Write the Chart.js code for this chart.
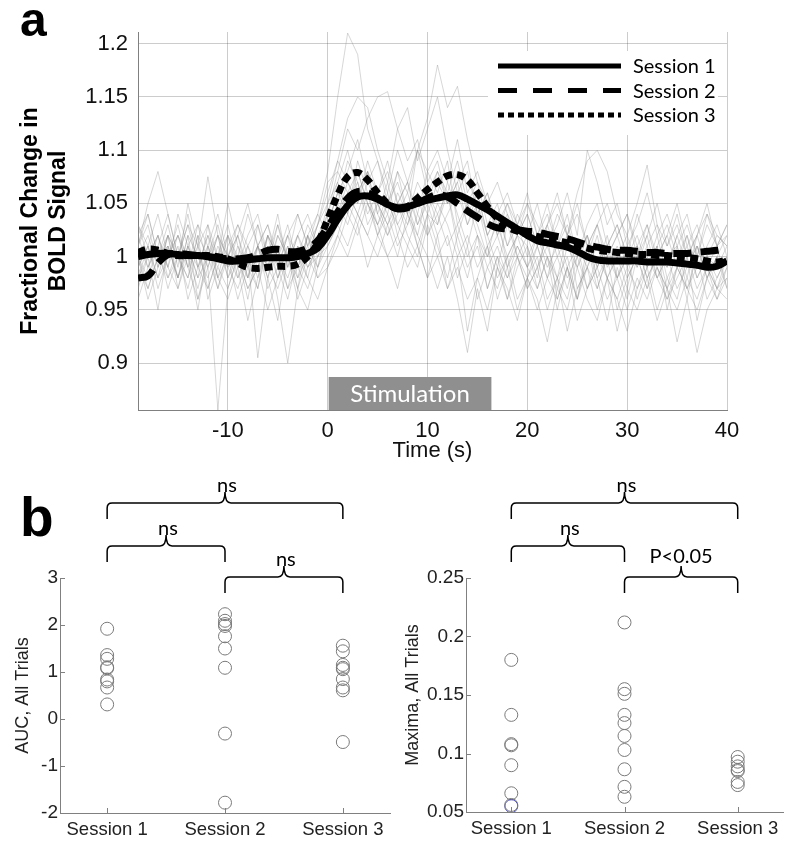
<!DOCTYPE html>
<html>
<head>
<meta charset="utf-8">
<script src="https://cdn.jsdelivr.net/npm/chart.js@4.4.1/dist/chart.umd.min.js"></script>
<style>
  html, body { margin: 0; padding: 0; background: #fff; }
  #page { position: relative; width: 800px; height: 846px; overflow: hidden; }
  .box { position: absolute; }
  .panel { position: absolute; font-family: 'Liberation Sans', Arial, sans-serif; font-weight: bold; line-height: 1; color: #000; }
</style>
</head>
<body>
<div id="page">
  <div class="box" style="left:0;top:0;width:800px;height:470px"><canvas id="bold"></canvas></div>
  <div class="box" style="left:0;top:460px;width:400px;height:386px"><canvas id="auc"></canvas></div>
  <div class="box" style="left:400px;top:460px;width:400px;height:386px"><canvas id="maxima"></canvas></div>
  <div class="panel" style="left:20px;top:-4px;font-size:48px">a</div>
  <div class="panel" style="left:20px;top:490px;font-size:55px">b</div>
</div>
<script>
// time axis (s), one sample per second
const times = [-19,-18,-17,-16,-15,-14,-13,-12,-11,-10,
  -9,-8,-7,-6,-5,-4,-3,-2,-1,0,
  1,2,3,4,5,6,7,8,9,10,
  11,12,13,14,15,16,17,18,19,20,
  21,22,23,24,25,26,27,28,29,30,
  31,32,33,34,35,36,37,38,39,40];

// session means
const session1 = [1.000,1.002,1.003,1.003,1.002,1.001,1.001,1.000,0.998,0.996,
  0.996,0.997,0.998,0.999,0.999,0.999,1.000,1.003,1.008,1.020,
  1.035,1.048,1.056,1.057,1.054,1.049,1.046,1.047,1.050,1.053,
  1.055,1.057,1.058,1.054,1.049,1.044,1.038,1.032,1.026,1.020,
  1.015,1.013,1.011,1.009,1.005,1.000,0.997,0.996,0.996,0.996,
  0.996,0.995,0.995,0.995,0.994,0.993,0.992,0.990,0.991,0.996];
const session2 = [0.980,0.982,0.994,1.002,1.003,1.002,1.001,1.000,0.999,0.998,
  0.998,0.999,1.002,1.006,1.007,1.005,1.005,1.008,1.015,1.028,
  1.042,1.055,1.061,1.060,1.055,1.049,1.045,1.046,1.050,1.055,
  1.058,1.056,1.050,1.043,1.037,1.031,1.027,1.026,1.025,1.024,
  1.023,1.021,1.019,1.017,1.014,1.011,1.009,1.007,1.006,1.006,
  1.005,1.004,1.004,1.003,1.003,1.003,1.004,1.005,1.006,1.008];
const session3 = [1.004,1.007,1.006,1.003,1.001,1.001,1.001,1.001,1.000,0.998,
  0.994,0.990,0.989,0.990,0.991,0.991,0.993,1.000,1.013,1.035,
  1.058,1.075,1.079,1.072,1.060,1.050,1.045,1.047,1.055,1.063,
  1.070,1.076,1.077,1.072,1.060,1.047,1.036,1.028,1.024,1.021,
  1.019,1.017,1.015,1.013,1.011,1.008,1.006,1.005,1.004,1.003,
  1.002,1.002,1.001,1.001,1.000,0.999,0.998,0.996,0.995,0.997];

// individual trials (light grey)
const trial01 = [1.01,0.99,1.02,0.98,1.00,1.03,0.99,1.01,0.97,1.00, 1.02,0.98,1.01,0.99,1.03,1.00,0.98,1.02,1.04,1.08,
  1.15,1.21,1.19,1.12,1.09,1.05,1.07,1.04,1.10,1.08, 1.06,1.09,1.03,1.05,1.02,1.00,1.04,0.99,1.02,1.01,
  0.98,1.03,1.00,0.97,1.01,0.99,1.02,0.98,1.00,0.97, 1.01,0.99,1.02,0.98,1.00,0.96,1.01,0.99,0.97,1.00];
const trial02 = [0.97,1.00,0.95,1.01,0.98,1.02,0.96,0.99,0.856,0.97, 1.00,0.96,1.01,0.98,0.94,1.00,0.97,1.02,0.99,1.03,
  1.06,1.04,1.08,1.05,1.03,1.06,1.02,1.05,1.01,1.04, 1.03,1.06,1.01,0.98,1.02,0.97,1.00,0.96,0.99,1.01,
  0.97,1.00,0.95,0.99,0.96,1.01,0.98,0.94,0.99,0.96, 1.00,0.97,1.01,0.95,0.99,0.97,1.00,0.96,0.98,1.00];
const trial03 = [1.02,1.04,1.00,1.03,0.99,1.05,1.01,1.03,0.98,1.02, 1.00,1.04,1.01,1.03,0.99,1.02,1.00,1.03,1.01,1.05,
  1.09,1.13,1.15,1.14,1.10,1.07,1.12,1.14,1.09,1.12, 1.15,1.10,1.06,1.08,1.04,1.06,1.02,1.05,1.03,1.06,
  1.02,1.05,1.01,1.04,1.00,1.03,1.05,1.01,1.03,1.00, 1.04,1.01,1.03,0.99,1.02,1.04,1.00,1.03,1.01,1.02];
const trial04 = [0.99,1.01,0.98,1.02,1.00,0.97,1.01,0.99,1.02,0.98, 1.01,0.99,0.97,1.02,1.00,0.98,1.01,0.99,1.00,1.02,
  1.04,1.07,1.05,1.09,1.06,1.04,1.08,1.06,1.10,1.13, 1.18,1.14,1.16,1.11,1.07,1.05,1.02,1.04,1.00,1.02,
  0.99,1.01,0.98,1.02,0.99,1.01,0.97,1.00,0.98,1.01, 0.99,1.02,0.98,1.00,1.01,0.97,0.99,1.00,0.98,1.00];
const trial05 = [1.00,0.96,0.99,1.02,0.97,1.00,0.95,1.01,0.98,0.96, 0.99,0.94,0.98,1.01,0.96,0.90,0.97,0.95,0.99,1.01,
  1.03,1.06,1.04,1.02,1.05,1.03,1.00,1.04,1.01,0.98, 1.02,0.97,1.00,0.93,0.98,1.01,0.96,0.99,0.95,0.98,
  1.00,0.96,0.98,0.93,0.97,0.99,0.95,0.98,0.96,0.93, 0.97,0.99,0.95,0.98,0.96,1.00,0.94,0.98,0.96,0.99];
const trial06 = [1.03,1.00,1.02,0.99,1.04,1.01,0.98,1.03,1.00,1.05, 1.01,0.98,1.03,1.00,1.04,0.99,1.02,1.00,1.03,1.07,
  1.08,1.06,1.04,1.07,1.05,1.03,1.06,1.04,1.07,1.05, 1.08,1.06,1.09,1.05,1.07,1.03,1.05,1.01,1.04,1.02,
  1.05,1.01,1.03,1.06,1.02,1.10,1.07,1.03,1.05,1.01, 1.03,1.06,1.02,1.04,1.01,1.03,1.00,1.04,1.02,1.01];
const trial07 = [0.98,1.01,0.97,1.00,1.03,0.99,1.01,0.97,1.00,0.99, 0.97,1.00,0.905,0.98,1.01,0.97,0.99,1.02,0.98,1.00,
  1.02,1.05,1.03,1.06,1.02,1.04,1.01,1.03,1.06,1.02, 1.04,1.01,1.03,1.00,1.02,0.99,1.01,0.98,1.00,0.97,
  0.99,1.02,0.96,0.99,1.01,0.97,0.99,1.02,0.98,1.00, 0.96,0.99,1.01,0.97,0.99,1.02,0.98,1.00,0.97,0.99];
const trial08 = [1.01,1.04,1.00,1.02,0.98,1.01,1.03,0.99,1.02,1.00, 1.03,1.01,0.99,1.02,1.00,1.03,0.99,1.01,1.04,1.02,
  1.05,1.09,1.07,1.04,1.06,1.08,1.05,1.03,1.06,1.04, 1.07,1.05,1.08,1.04,1.06,1.02,1.04,1.06,1.03,1.05,
  1.02,1.04,1.01,1.03,1.00,1.02,0.99,1.01,1.03,1.00, 1.02,0.99,1.01,1.03,1.00,1.02,0.99,1.01,1.03,1.00];
const trial09 = [0.99,0.97,1.00,0.98,1.01,0.96,0.99,1.02,0.98,1.00, 0.96,0.99,1.01,0.97,0.99,0.96,1.00,0.98,0.96,0.99,
  1.01,1.04,1.02,1.05,1.03,1.00,1.02,0.99,1.01,0.98, 1.00,0.97,0.99,0.96,0.98,0.95,0.99,0.97,0.94,0.98,
  0.96,0.92,0.97,0.95,0.99,0.96,0.94,0.98,0.93,0.97, 0.95,0.98,0.94,0.97,0.92,0.96,0.91,0.95,0.97,0.98];
const trial10 = [1.00,1.02,0.99,1.01,0.98,1.02,1.00,0.98,1.01,0.99, 1.02,0.99,1.01,0.98,1.02,1.00,0.99,1.02,1.00,1.03,
  1.06,1.05,1.07,1.03,1.05,1.02,1.04,1.06,1.03,1.05, 1.02,1.04,1.06,1.03,1.05,1.01,1.03,1.00,1.02,1.04,
  1.01,1.03,1.05,1.02,1.06,1.09,1.10,1.08,1.04,1.02, 1.05,1.086,1.03,1.01,1.04,1.00,1.02,1.05,1.01,1.03];
const trial11 = [1.01,1.05,1.08,1.04,1.00,1.03,1.01,1.075,1.02,1.00, 0.98,1.01,1.03,0.99,1.02,1.00,1.04,1.01,0.99,1.02,
  1.04,1.06,1.08,1.05,1.02,1.05,1.03,1.01,1.04,1.02, 1.05,1.03,1.00,1.02,0.99,1.01,0.98,1.00,1.02,0.99,
  1.01,0.98,1.00,1.02,0.97,0.99,1.01,0.98,1.00,1.02, 0.99,1.01,0.98,1.00,0.97,0.99,1.01,0.98,1.00,0.99];
const trial12 = [0.98,1.00,1.02,0.99,0.97,1.01,0.98,1.00,1.03,0.99, 1.00,0.97,0.99,1.01,0.98,1.00,0.96,0.99,1.01,1.04,
  1.07,1.10,1.06,1.08,1.04,1.07,1.03,1.05,1.02,1.00, 0.97,1.00,0.96,0.91,0.97,0.93,0.99,0.96,1.00,0.97,
  0.99,0.95,0.98,1.00,0.96,0.99,0.97,1.00,0.95,0.98, 1.00,0.97,0.99,0.96,0.98,1.00,0.97,0.99,0.96,0.98];
const trial13 = [1.00,0.98,1.01,0.99,1.02,1.00,0.97,1.01,0.99,1.02, 0.99,1.01,0.98,1.02,1.00,0.97,1.01,0.98,1.02,1.04,
  1.08,1.12,1.10,1.13,1.15,1.155,1.12,1.09,1.11,1.07, 1.09,1.05,1.07,1.03,1.06,1.02,1.04,1.01,1.03,1.00,
  1.02,0.99,1.01,0.98,1.00,1.02,0.99,1.01,0.98,1.00, 1.01,0.98,1.00,1.02,0.99,1.01,0.98,1.00,0.99,1.01];
const trial14 = [1.02,0.99,1.01,1.04,1.00,0.98,1.02,1.00,0.97,1.01, 1.03,1.00,0.97,1.01,0.99,1.02,0.98,1.00,1.03,1.05,
  1.07,1.04,1.09,1.06,1.03,1.05,1.08,1.04,1.02,1.06, 1.03,1.07,1.04,1.01,1.05,1.02,0.99,1.03,1.00,0.98,
  1.01,0.98,1.02,0.99,0.96,1.00,1.03,0.99,1.01,0.98, 1.00,1.03,0.99,0.97,1.01,0.98,1.02,0.99,1.01,0.97];
const trial15 = [0.96,0.99,1.01,0.97,1.00,0.98,1.02,0.96,0.99,0.97, 1.00,0.97,0.99,0.95,0.98,1.01,0.97,1.00,0.98,0.99,
  1.02,1.00,1.03,0.99,1.02,1.00,0.97,1.01,0.99,1.03, 1.00,1.02,0.98,1.01,0.96,0.99,0.97,1.00,0.96,0.98,
  0.95,0.98,0.96,0.99,0.94,0.97,0.99,0.96,0.98,0.95, 0.98,0.96,0.99,0.97,0.95,0.98,0.96,0.99,0.97,0.96];
const trial16 = [1.01,1.03,0.99,1.02,1.00,1.04,0.99,1.02,1.00,1.03, 0.99,1.02,1.04,1.00,1.03,0.99,1.02,1.04,1.01,1.03,
  1.06,1.08,1.11,1.07,1.09,1.06,1.10,1.07,1.04,1.08, 1.10,1.07,1.11,1.06,1.08,1.05,1.07,1.04,1.02,1.05,
  1.03,1.01,1.04,1.02,1.05,1.01,1.03,1.00,1.02,1.04, 1.01,1.03,1.00,1.02,1.05,1.01,1.03,1.00,1.02,1.01];
const trial17 = [0.99,1.01,0.98,1.00,1.02,0.99,0.96,1.00,1.02,0.98, 1.00,0.98,1.01,0.99,0.97,1.00,1.02,0.99,1.01,1.02,
  1.05,1.03,1.06,1.08,1.04,1.02,1.05,1.07,1.03,1.06, 1.04,1.06,1.02,1.05,1.03,1.00,1.02,0.99,1.01,0.99,
  1.02,1.00,0.97,1.01,0.99,1.02,0.98,1.00,1.02,0.99, 1.01,0.98,1.00,0.99,1.02,0.99,1.01,0.98,1.00,1.02];
const trial18 = [1.00,0.97,1.00,1.01,0.98,1.01,0.99,0.97,1.00,1.02, 0.98,1.00,0.99,1.02,0.98,1.01,0.99,0.97,1.00,1.01,
  1.03,1.01,1.04,1.02,1.00,1.03,1.05,1.02,1.00,1.04, 1.01,0.98,1.02,0.99,1.01,0.97,1.00,0.98,1.01,0.99,
  0.97,1.00,0.98,0.96,1.00,0.97,1.00,0.98,0.96,0.99, 0.97,1.00,0.98,0.96,0.99,0.97,0.95,0.98,1.00,0.97];
const trial19 = [1.03,1.01,1.04,1.00,1.02,0.99,1.03,1.01,1.04,1.00, 1.02,1.05,1.01,1.03,1.00,1.02,1.04,1.01,1.03,1.06,
  1.09,1.07,1.05,1.08,1.06,1.09,1.05,1.07,1.10,1.06, 1.08,1.05,1.07,1.09,1.04,1.06,1.03,1.05,1.02,1.04,
  1.01,1.03,1.06,1.02,1.04,1.01,1.03,1.05,1.02,1.04, 1.00,1.02,1.05,1.01,1.03,1.00,1.02,1.04,1.01,1.03];
const trials = [trial01, trial02, trial03, trial04, trial05, trial06, trial07, trial08, trial09, trial10,
  trial11, trial12, trial13, trial14, trial15, trial16, trial17, trial18, trial19];

const timeTicks = [-10, 0, 10, 20, 30, 40];
const boldTicks = [0.9, 0.95, 1, 1.05, 1.1, 1.15, 1.2];
const stimWindow = [0.1, 16.4];

// panel b
const sessionNames = ['Session 1', 'Session 2', 'Session 3'];
const aucSession1 = [1.92, 1.36, 1.28, 1.10, 1.08, 0.84, 0.80, 0.67, 0.31];
const aucSession2 = [2.23, 2.09, 2.02, 1.98, 1.76, 1.50, 1.09, -0.31, -1.78];
const aucSession3 = [1.56, 1.44, 1.15, 1.09, 1.06, 0.85, 0.67, 0.61, -0.49];
const maxSession1 = [0.180, 0.133, 0.108, 0.107, 0.090, 0.066, 0.055, 0.056];
const maxSession2 = [0.212, 0.155, 0.151, 0.133, 0.126, 0.115, 0.103, 0.0865, 0.0715, 0.063];
const maxSession3 = [0.097, 0.093, 0.089, 0.086, 0.085, 0.0757, 0.073];
const aucTicks = [-2, -1, 0, 1, 2, 3];
const maxTicks = [0.05, 0.1, 0.15, 0.2, 0.25];
const comparisons = [[1, 3], [1, 2], [2, 3]];
const aucNotes = ['ns', 'ns', 'ns'];
const maxNotes = ['ns', 'ns', 'P<0.05'];

const ARIAL = "'Liberation Sans', Arial, sans-serif";
const CALIBRI = "Lato, 'Open Sans', sans-serif";

const xy = (vals) => vals.map((v, i) => ({ x: times[i], y: v }));
const fmt = (v) => String(+Number(v).toFixed(2));

// grey stimulation bar at the foot of panel a
const stimPlugin = {
  id: 'stim',
  afterDatasetsDraw(chart) {
    const { ctx, chartArea, scales: { x, y } } = chart;
    const x0 = x.getPixelForValue(stimWindow[0]);
    const x1 = x.getPixelForValue(stimWindow[1]);
    const yTop = y.getPixelForValue(0.887);
    ctx.save();
    ctx.fillStyle = '#8f8f8f';
    ctx.fillRect(x0, yTop, x1 - x0, chartArea.bottom - yTop);
    ctx.fillStyle = '#fff';
    ctx.font = '24px ' + CALIBRI;
    ctx.textAlign = 'center';
    ctx.textBaseline = 'middle';
    ctx.fillText('Stimulation', (x0 + x1) / 2, (yTop + chartArea.bottom) / 2 + 1);
    ctx.restore();
  }
};

// legend with long line samples, white background
const sessionLegend = {
  id: 'sessionLegend',
  afterDatasetsDraw(chart) {
    const ctx = chart.ctx;
    const dashes = [[], [19, 16], [6, 4]];
    ctx.save();
    ctx.fillStyle = '#fff';
    ctx.fillRect(488, 51, 230, 84);
    sessionNames.forEach((name, i) => {
      const y = 66 + i * 24.5;
      ctx.beginPath();
      ctx.setLineDash(dashes[i]);
      ctx.lineWidth = 5;
      ctx.strokeStyle = '#000';
      ctx.moveTo(498, y);
      ctx.lineTo(621, y);
      ctx.stroke();
      ctx.setLineDash([]);
      ctx.fillStyle = '#000';
      ctx.font = '20px ' + CALIBRI;
      ctx.textAlign = 'left';
      ctx.textBaseline = 'middle';
      ctx.fillText(name, 633, y + 1);
    });
    ctx.restore();
  }
};

// significance braces over panel b + inward tick marks
const bracketPlugin = {
  id: 'brackets',
  afterDraw(chart, args, opts) {
    const { ctx, chartArea, scales: { x, y } } = chart;
    const levels = [43, 86, 117];
    ctx.save();
    ctx.strokeStyle = '#000';
    ctx.lineWidth = 1.5;
    comparisons.forEach((pair, i) => {
      const x0 = x.getPixelForValue(pair[0]);
      const x1 = x.getPixelForValue(pair[1]);
      const yl = levels[i];
      const cx = (x0 + x1) / 2;
      const r = 5;
      ctx.beginPath();
      ctx.moveTo(x0, yl + 16);
      ctx.lineTo(x0, yl + r);
      ctx.quadraticCurveTo(x0, yl, x0 + r, yl);
      ctx.lineTo(cx - 6, yl);
      ctx.quadraticCurveTo(cx, yl, cx, yl - 11);
      ctx.quadraticCurveTo(cx, yl, cx + 6, yl);
      ctx.lineTo(x1 - r, yl);
      ctx.quadraticCurveTo(x1, yl, x1, yl + r);
      ctx.lineTo(x1, yl + 16);
      ctx.stroke();
      const note = opts.notes[i];
      ctx.fillStyle = '#000';
      ctx.font = '20px ' + CALIBRI;
      ctx.textBaseline = 'alphabetic';
      if (note === 'ns') {
        ctx.textAlign = 'left';
        ctx.fillText(note, cx - 8, yl - 11);
      } else {
        ctx.textAlign = 'center';
        ctx.fillText(note, cx, yl - 14);
      }
    });
    ctx.strokeStyle = '#808080';
    ctx.lineWidth = 1;
    ctx.beginPath();
    x.ticks.forEach(t => {
      const px = Math.round(x.getPixelForValue(t.value)) + 0.5;
      ctx.moveTo(px, chartArea.bottom);
      ctx.lineTo(px, chartArea.bottom - 5);
    });
    y.ticks.forEach(t => {
      const py = Math.round(y.getPixelForValue(t.value)) + 0.5;
      ctx.moveTo(chartArea.left, py);
      ctx.lineTo(chartArea.left + 5, py);
    });
    ctx.stroke();
    ctx.restore();
  }
};

const meanStyle = { borderColor: '#000', borderWidth: 7, pointRadius: 0, tension: 0.4, fill: false };

new Chart(document.getElementById('bold'), {
  type: 'line',
  data: {
    datasets: [
      Object.assign({ label: sessionNames[0], data: xy(session1) }, meanStyle),
      Object.assign({ label: sessionNames[1], data: xy(session2), borderDash: [18, 9] }, meanStyle),
      Object.assign({ label: sessionNames[2], data: xy(session3), borderDash: [8, 5] }, meanStyle),
      ...trials.map(tr => ({
        data: xy(tr), borderColor: 'rgba(140,140,140,0.35)', borderWidth: 1, pointRadius: 0, tension: 0
      }))
    ]
  },
  options: {
    responsive: true,
    maintainAspectRatio: false,
    animation: false,
    events: [],
    layout: { padding: { top: 32, right: 73, bottom: 0, left: 0 } },
    plugins: { legend: { display: false }, tooltip: { enabled: false } },
    scales: {
      x: {
        type: 'linear', min: -19, max: 40,
        afterBuildTicks: s => { s.ticks = timeTicks.map(v => ({ value: v })); },
        afterFit: s => { s.height = 60; },
        grid: { color: 'rgba(0,0,0,0.2)', drawTicks: false },
        border: { color: '#808080' },
        ticks: { font: { family: ARIAL, size: 22 }, color: '#111', padding: 8, maxRotation: 0, callback: v => String(v) },
        title: { display: true, text: 'Time (s)', font: { family: ARIAL, size: 22 }, color: '#111', padding: { top: 0, bottom: 6 } }
      },
      y: {
        type: 'linear', min: 0.856, max: 1.211,
        afterBuildTicks: s => { s.ticks = boldTicks.map(v => ({ value: v })); },
        afterFit: s => { s.width = 138; },
        grid: { color: 'rgba(0,0,0,0.2)', drawTicks: false },
        border: { color: '#808080' },
        ticks: { font: { family: ARIAL, size: 22 }, color: '#111', padding: 10, callback: fmt },
        title: {
          display: true, text: ['Fractional Change in', 'BOLD Signal'],
          font: { family: ARIAL, size: 23, weight: 'bold', lineHeight: 1.2 }, color: '#000',
          padding: { top: 17, bottom: 0 }
        }
      }
    }
  },
  plugins: [stimPlugin, sessionLegend]
});

function sessionScatter(id, series, yTicks, yMin, yMax, yTitle, notes, g) {
  return new Chart(document.getElementById(id), {
    type: 'scatter',
    data: {
      datasets: series.map((vals, i) => ({
        data: vals.map(v => ({ x: i + 1, y: v })),
        pointRadius: 6.5,
        pointBorderWidth: 1,
        pointBorderColor: c => (g.blue && c.datasetIndex === g.blue[0] && c.dataIndex === g.blue[1]) ? '#4b4bb0' : '#7a7a7a',
        pointBackgroundColor: 'rgba(0,0,0,0)'
      }))
    },
    options: {
      responsive: true,
      maintainAspectRatio: false,
      animation: false,
      events: [],
      layout: { padding: { top: 118, right: g.right, bottom: 0, left: 0 } },
      plugins: { legend: { display: false }, tooltip: { enabled: false }, brackets: { notes: notes } },
      scales: {
        x: {
          type: 'linear', min: 0.6, max: 3.4,
          afterBuildTicks: s => { s.ticks = [1, 2, 3].map(v => ({ value: v })); },
          afterFit: s => { s.height = g.xh; },
          grid: { display: false, drawTicks: false },
          border: { display: true, color: '#808080' },
          ticks: { font: { family: ARIAL, size: 18.5 }, color: '#222', padding: 6, maxRotation: 0, callback: v => sessionNames[v - 1] }
        },
        y: {
          type: 'linear', min: yMin, max: yMax,
          afterBuildTicks: s => { s.ticks = yTicks.map(v => ({ value: v })); },
          afterFit: s => { s.width = g.yw; },
          grid: { display: false, drawTicks: false },
          border: { display: true, color: '#808080' },
          ticks: { font: { family: ARIAL, size: 19 }, color: '#222', padding: 2, callback: fmt },
          title: { display: true, text: yTitle, font: { family: ARIAL, size: 18 }, color: '#222', padding: { top: g.tp, bottom: 0 } }
        }
      }
    },
    plugins: [bracketPlugin]
  });
}

sessionScatter('auc', [aucSession1, aucSession2, aucSession3], aucTicks, -2, 3,
  'AUC, All Trials', aucNotes, { right: 10, yw: 60, xh: 33, tp: 12 });
sessionScatter('maxima', [maxSession1, maxSession2, maxSession3], maxTicks, 0.05, 0.25,
  'Maxima, All Trials', maxNotes, { right: 17, yw: 66, xh: 34, tp: 2, blue: [0, 6] });
</script>
</body>
</html>
